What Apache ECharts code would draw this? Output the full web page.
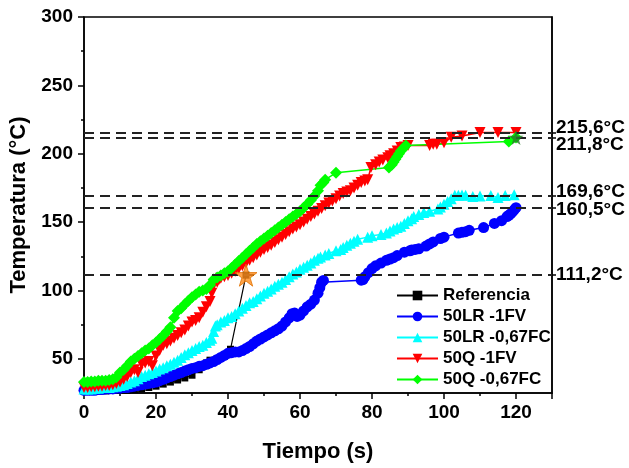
<!DOCTYPE html>
<html>
<head>
<meta charset="utf-8">
<script src="https://cdn.jsdelivr.net/npm/echarts@6/dist/echarts.min.js"></script>
<style>
  html, body { margin: 0; padding: 0; background: #fff; }
  #myChart { width: 629px; height: 468px; }
</style>
</head>
<body>
<div id="myChart"></div>
<script>
  // datos: [tiempo (s), temperatura (°C)]
  var seriesNames = ['Referencia', '50LR -1FV', '50LR -0,67FC', '50Q -1FV', '50Q -0,67FC'];

  var referencia = [[0,26.5],[2,26.5],[4,26.5],[6,26.5],[8,27],[10,27],[12,27],[14,27.5],[16,28],[18,29],[20,30],
    [22,31.5],[24,33],[26,34.5],[28,36],[30,38],[32,42],[34,47],[35,49],[37,50],[39,52],[40.7,57],[45,111.2]];

  var lr1fv = [[0,27],[1,27],[2,27],[3,27],[4,27.5],[5,27.5],[6,28],[7,28],[8,28],[9,28.5],[10,28.5],[11,29],
    [12,29],[13,29.5],[14,30],[15,30.5],[16,31],[17,31.5],[18,32],[19,32.5],[20,33],[21,34],[22,35],[23,36],
    [24,37],[25,38],[26,39],[27,40],[28,41],[29,42],[30,43],[31,43.5],[32,44.5],[33,45],[34,46],[35,47],[36,48],
    [37,49.5],[38,51],[39,52.5],[40,54],[41,54.5],[42,55],[43,55],[44,56],[45,57.5],[46,59],[47,61],[48,63],
    [49,64.5],[50,66],[51,67.5],[52,69],[53,70.5],[54,72],[55,74],[56,77],[57,80],[57.8,83],[58.5,83.5],
    [59.2,81],[60,82],[61,85],[62,88],[63,90],[64,93],[65,98],[65.5,102],[66,106],[66.5,107.3],
    [77,107.5],[77.5,108],[78,110],[79,113],[80,116],[81,118],[82.5,120],[84,122],[85,123],[86,124],
    [87,125.5],[89,128],[90.5,129],[91,129.5],[92,130],[93,130.5],[95,132.5],[96,134],[97,135.5],[99,138],
    [100,139],[104,142],[105,142.5],[106,143],[107,144],[111,146],[114,149],[116,151],[117.5,154],[118,155],
    [118.5,156],[119,157.5],[119.5,159],[120,160.5]];

  var lr067fc = [[0,28],[1,28],[2,28],[3,28.5],[4,28.5],[5,29],[6,29],[7,29],[8,29.5],[9,30],[10,30.5],[11,31],
    [12,32],[13,33],[14,34],[15,35.5],[16,37],[17,38],[18,39],[19,40],[20,41],[21,42.5],[22,43.5],[23,45],
    [24,46],[25,47.5],[26,49],[27,51],[28,53],[29,54.5],[30,56],[31,57.5],[32,59],[33,60],[34,62],[35,63.5],
    [35.5,65],[36,70],[36.5,74],[37,75],[38,77],[39,78],[40,80],[41,81],[42,83],[43,85],[44,87],[45,89],
    [46,91],[47,92],[48,94],[49,96],[50,98],[51,99.5],[52,101],[53,103],[54,104.5],[55,106],[56,108],
    [57,110],[58,112],[59,113.5],[60,115.5],[61,117],[62,118.5],[63,120],[64,122],[65,123.5],[65.7,124.5],
    [67,126],[68,127],[70,129],[71.3,130],[72,131.5],[73,133],[74,134.5],[75,136],[76,137.5],[78.8,139],
    [80,140],[82.5,141],[84,142],[85,143.5],[86,145],[87,146],[88,147],[89,149],[90,151],[91,152.5],
    [91.6,154],[93,155.5],[94.4,157],[96,158],[98.3,159.5],[99,161],[100,163],[101,165],[102,167],
    [103,169.6],[104,169.6],[105,169.8],[106,169.6],[108,168.7],[110,169],[113,169.5],[115,168],
    [117,169.5],[119.5,170]];

  var q1fv = [[0,29],[1,29],[2,29.5],[3,29.5],[4,30],[5,30],[6,30.5],[7,30.5],[8,31],[9,32],[10,33],[11,35],
    [12,37],[13,40],[14,42],[15,40],[16,46],[17,47],[18,48],[19,45],[20,52],[21,56],[22,60],[23,61],[24,63],
    [25,65],[26,67],[27,69],[28,71],[29,74],[30,77],[31,78],[32,80],[33,84],[34,88],[35,92],[35.5,98],
    [36,104],[37,106],[37.5,108],[38,109],[39,110],[40,111],[41,112.5],[42,114],[43,116],[44,118],[45,120],
    [46,122],[47,124],[48,126],[49,128],[50,130],[51,131.5],[52,133],[53,135],[54,137],[55,139],[56,141],
    [57,143],[58,145],[59,146.5],[60,148],[61,150],[62,152],[63,154],[64,156],[65,158],[66,160],[67,162],
    [68,164],[69,165.5],[70,167],[71,169],[72,171],[73,172],[74,173],[75,175],[76,177],[77,179],[78,180],
    [78.8,181],[79.7,190],[81,192],[82,194],[83,195.5],[84.4,197],[85,198.5],[86,200],[87,202],[88,204.5],
    [89,205],[90,206],[96,206],[97,207],[98,207],[100,208],[102,212],[105,213],[110,215.6],[115,215.6],
    [120,215.6]];

  var q067fc = [[0,33],[1,33],[2,33.5],[3,33.5],[4,34],[5,34],[6,34],[7,34.5],[8,35],[9,36.5],[10,40],[11,42],
    [12,45],[13,48],[14,50],[15,52],[16,54],[17,56],[18,57.5],[19,60],[20,62],[21,64.5],[22,67],[23,70],
    [24,73],[25,80],[26,85],[27,87],[28,90],[29,92.5],[30,95],[31,97],[32,99],[33,100],[34,101],[35,104],
    [36,108],[37,109.5],[38,111],[39,112.5],[40,114],[41,116.5],[42,119],[43,121.5],[44,124],[45,126.5],
    [46,129],[47,131.5],[48,134],[49,136],[50,138],[51,140],[52,142],[53,144],[54,146],[55,148],[56,150],
    [57,152],[58,154],[59,156],[60,158],[61,160.5],[62,163],[63,166],[64,169],[65,173],[65.7,177],
    [66.5,179],[67,181],[70,186],[84.7,190],[85.5,192],[86,194],[86.5,196],[87,198],[87.5,200],[88,202],
    [88.7,204],[89.4,206],[118,209],[120,211.8]];

  var starPoints = [[45,111.2],[120,211.8]];

  var refLines = [215.6, 211.8, 169.6, 160.5, 111.2];
  var refLabels = ['215,6°C', '211,8°C', '169,6°C', '160,5°C', '111,2°C'];
  var refLabelShift = [-5, 7, -4, 2, 0];

  var xTicks = [0, 20, 40, 60, 80, 100, 120];
  var yTicks = [50, 100, 150, 200, 250, 300];

  var font = "'Liberation Sans', Arial, sans-serif";
  var myChart = echarts.init(document.getElementById('myChart'));

  var markData = refLines.map(function (v, i) {
    return {
      yAxis: v,
      label: { formatter: refLabels[i], offset: [0, refLabelShift[i]] }
    };
  });

  function lineSeries(name, data, color, symbol, size, extra) {
    var s = {
      name: name,
      type: 'line',
      data: data,
      symbol: symbol,
      symbolSize: size,
      showAllSymbol: true,
      animation: false,
      lineStyle: { color: color, width: 1.5 },
      itemStyle: { color: color }
    };
    return Object.assign(s, extra || {});
  }

  myChart.setOption({
    animation: false,
    textStyle: { fontFamily: font },
    grid: {
      left: 84, right: 77, top: 17, bottom: 73,
      show: true, borderColor: '#000', borderWidth: 1.5, backgroundColor: '#fff'
    },
    legend: {
      orient: 'vertical',
      left: 391, top: 282,
      itemWidth: 41, itemHeight: 12, itemGap: 4,
      data: seriesNames,
      textStyle: { fontFamily: font, fontWeight: 'bold', fontSize: 17, color: '#000' }
    },
    xAxis: {
      type: 'value',
      min: 0, max: 130, interval: 20,
      name: 'Tiempo (s)',
      nameLocation: 'middle',
      nameGap: 48,
      nameTextStyle: { fontFamily: font, fontWeight: 'bold', fontSize: 22, color: '#000' },
      axisLine: { lineStyle: { color: '#000', width: 1.5 } },
      axisTick: { length: 6, lineStyle: { color: '#000', width: 1.5 } },
      minorTick: { show: true, splitNumber: 2, length: 3, lineStyle: { color: '#000', width: 1.5 } },
      axisLabel: {
        customValues: xTicks,
        margin: 10, fontFamily: font, fontWeight: 'bold', fontSize: 19, color: '#000'
      },
      splitLine: { show: false }
    },
    yAxis: [{
      type: 'value',
      min: 25, max: 300, interval: 25,
      name: 'Temperatura (°C)',
      nameLocation: 'middle',
      nameGap: 47,
      nameTextStyle: { fontFamily: font, fontWeight: 'bold', fontSize: 22, color: '#000' },
      axisLine: { show: true, lineStyle: { color: '#000', width: 1.5 } },
      axisTick: { length: 3, lineStyle: { color: '#000', width: 1.5 } },
      axisLabel: {
        customValues: yTicks,
        margin: 11, fontFamily: font, fontWeight: 'bold', fontSize: 19, color: '#000'
      },
      splitLine: { show: false }
    }, {
      type: 'value',
      position: 'left',
      min: 25, max: 300,
      axisLine: { show: false },
      axisTick: { show: true, customValues: yTicks, length: 6, lineStyle: { color: '#000', width: 1.5 } },
      axisLabel: { show: false },
      splitLine: { show: false }
    }, {
      type: 'value',
      position: 'right',
      min: 25, max: 300,
      axisLine: { show: true, lineStyle: { color: '#000', width: 1.5 } },
      axisTick: { show: true, customValues: refLines, length: 4, lineStyle: { color: '#000', width: 1.5 } },
      axisLabel: { show: false },
      splitLine: { show: false }
    }],
    series: [
      lineSeries(seriesNames[0], referencia, '#000000', 'rect', 7, {
        lineStyle: { color: '#000', width: 1.2 },
        markLine: {
          silent: true,
          symbol: 'none',
          animation: false,
          lineStyle: { color: '#222', type: [10, 6], width: 2 },
          label: {
            position: 'end', distance: 4,
            fontFamily: font, fontWeight: 'bold', fontSize: 19, color: '#000'
          },
          data: markData
        }
      }),
      lineSeries(seriesNames[1], lr1fv, '#0000ff', 'circle', 11),
      lineSeries(seriesNames[2], lr067fc, '#00ffff', 'triangle', 11),
      lineSeries(seriesNames[3], q1fv, '#ff0000', 'path://M0,0 L10,0 L5,9 Z', 11),
      lineSeries(seriesNames[4], q067fc, '#00ff00', 'diamond', 12),
      {
        name: 'estrellas',
        type: 'scatter',
        symbol: 'path://M50,0 L61,35 L98,35 L68,57 L79,91 L50,70 L21,91 L32,57 L2,35 L39,35 Z',
        z: 10,
        animation: false,
        data: [
          { value: starPoints[0], symbolSize: 22, itemStyle: { color: '#ff8c1a', borderColor: '#e07000', borderWidth: 1 } },
          { value: starPoints[1], symbolSize: 15, itemStyle: { color: '#2a7a2a' } }
        ]
      }
    ]
  });
</script>
</body>
</html>
